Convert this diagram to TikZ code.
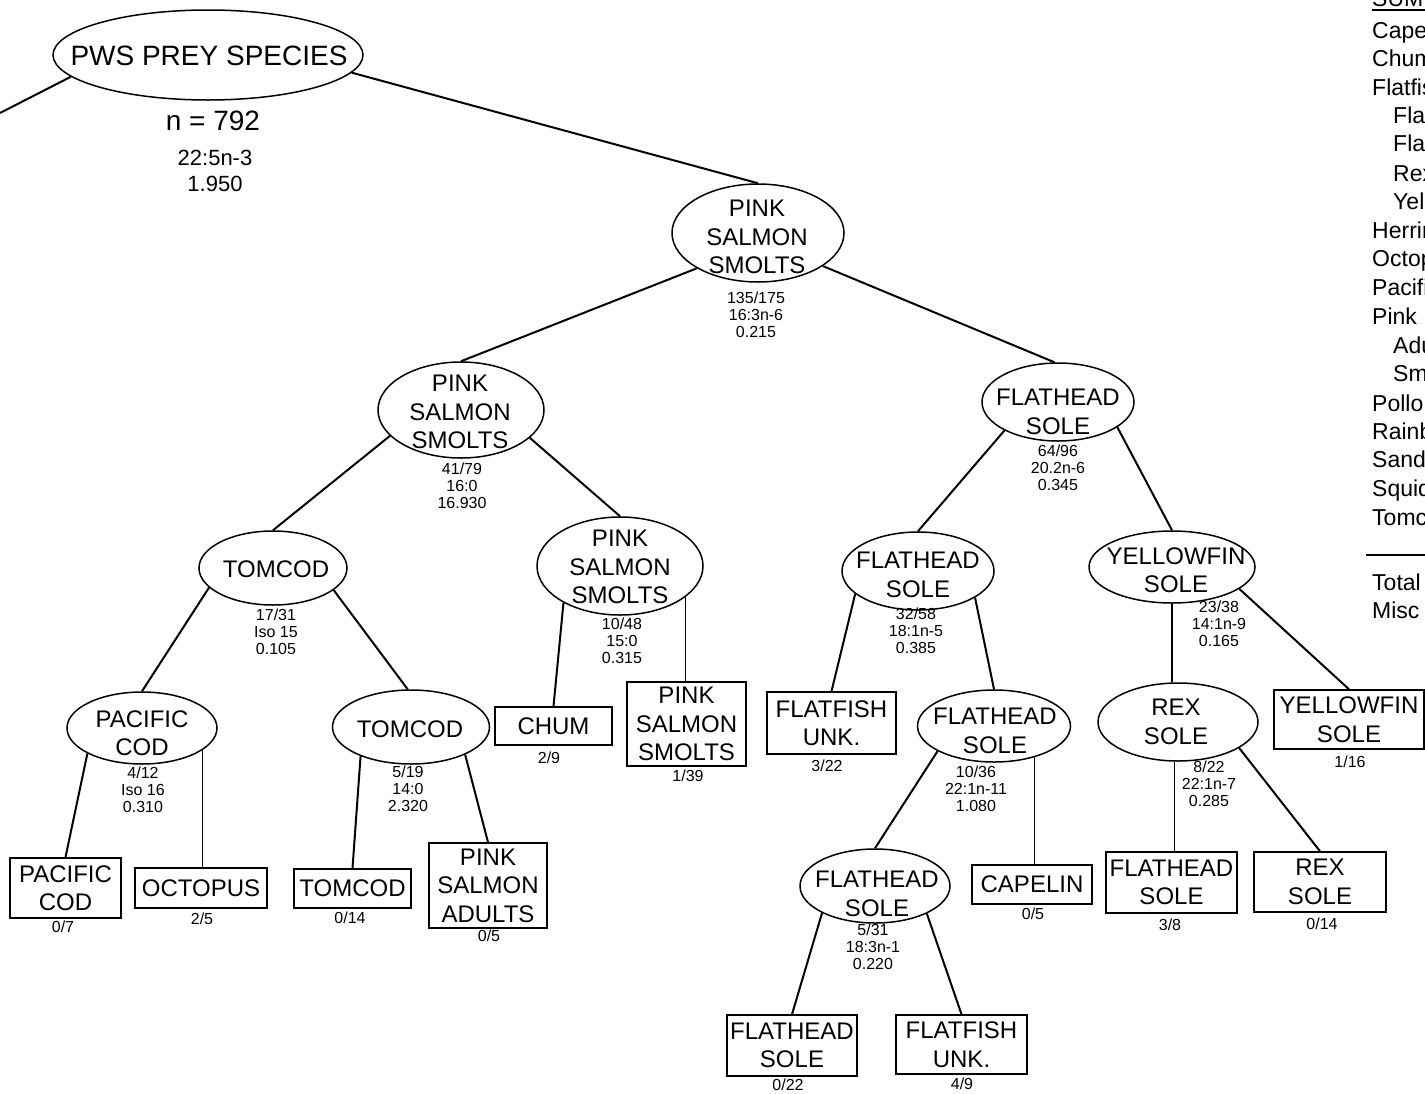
\documentclass[tikz,border=0pt]{standalone}
\usepackage{fontspec}
\setmainfont{Liberation Sans}
\usetikzlibrary{shapes.geometric,calc}
\begin{document}
\begin{tikzpicture}[x=1pt,y=-1pt,
  ell/.style={draw, ellipse, line width=1.5pt, inner sep=0pt},
  etext/.style={align=center, inner sep=0pt, font=\fontsize{24}{28.5}\selectfont},
  leaf/.style={draw, rectangle, line width=1.5pt, inner sep=0pt, align=center, font=\fontsize{24}{28.5}\selectfont},
  stat/.style={align=center, inner sep=0pt, font=\fontsize{16}{17}\selectfont},
  cnt/.style={inner sep=0pt, font=\fontsize{16}{17}\selectfont},
  conn/.style={line width=2pt},
  vconn/.style={line width=1.1pt},
  leg/.style={anchor=base west, inner sep=0pt, font=\fontsize{23}{23}\selectfont},
]
\clip (0,0) rectangle (1425,1093);
\fill[white] (0,0) rectangle (1425,1093);

% ---------- root ----------
\node[ell, minimum width=310pt, minimum height=90pt] (R0) at (208,55) {};
\node[etext, font=\fontsize{28}{30}\selectfont] (R0t) at (209,56) {PWS PREY SPECIES};
\node[inner sep=0pt, font=\fontsize{28}{30}\selectfont] (R0n) at (213,121) {n = 792};
\node[stat, font=\fontsize{22}{26}\selectfont] (R0s) at (215,171) {22:5n-3\\1.950};
\coordinate (eL) at (0,113);

% ---------- internal (ellipse) nodes ----------
\node[ell, minimum width=172pt, minimum height=98pt] (A) at (758,233) {};
\node[etext] (At) at (757,237) {PINK\\SALMON\\SMOLTS};
\node[stat] (As) at (756,315) {135/175\\16:3n-6\\0.215};

\node[ell, minimum width=166pt, minimum height=96pt] (B) at (461,410) {};
\node[etext] (Bt) at (460,412) {PINK\\SALMON\\SMOLTS};
\node[stat] (Bs) at (462,486) {41/79\\16:0\\16.930};

\node[ell, minimum width=152pt, minimum height=78pt] (C) at (1058,402) {};
\node[etext] (Ct) at (1058,412) {FLATHEAD\\SOLE};
\node[stat] (Cs) at (1058,468) {64/96\\20.2n-6\\0.345};

\node[ell, minimum width=148pt, minimum height=74pt] (D) at (273,568) {};
\node[etext] (Dt) at (276,569) {TOMCOD};
\node[stat] (Ds) at (276,632) {17/31\\Iso 15\\0.105};

\node[ell, minimum width=166pt, minimum height=98pt] (E) at (620,566) {};
\node[etext] (Et) at (620,567) {PINK\\SALMON\\SMOLTS};
\node[stat] (Es) at (622,641) {10/48\\15:0\\0.315};

\node[ell, minimum width=152pt, minimum height=78pt] (F) at (918,571) {};
\node[etext] (Ft) at (918,575) {FLATHEAD\\SOLE};
\node[stat] (Fs) at (916,631) {32/58\\18:1n-5\\0.385};

\node[ell, minimum width=166pt, minimum height=72pt] (G) at (1172,567) {};
\node[etext] (Gt) at (1176,570) {YELLOWFIN\\SOLE};
\node[stat] (Gs) at (1219,624) {23/38\\14:1n-9\\0.165};

\node[ell, minimum width=150pt, minimum height=72pt] (H) at (142,728) {};
\node[etext] (Ht) at (142,733) {PACIFIC\\COD};
\node[stat] (Hs) at (143,790) {4/12\\Iso 16\\0.310};

\node[ell, minimum width=157pt, minimum height=74pt] (I) at (411,727) {};
\node[etext] (It) at (410,729) {TOMCOD};
\node[stat] (Is) at (408,789) {5/19\\14:0\\2.320};

\node[ell, minimum width=153pt, minimum height=72pt] (M) at (994,726) {};
\node[etext] (Mt) at (995,731) {FLATHEAD\\SOLE};
\node[stat] (Ms) at (976,789) {10/36\\22:1n-11\\1.080};

\node[ell, minimum width=160pt, minimum height=78pt] (N) at (1178,722) {};
\node[etext] (Nt) at (1176,722) {REX\\SOLE};
\node[stat] (Ns) at (1209,784) {8/22\\22:1n-7\\0.285};

\node[ell, minimum width=150pt, minimum height=74pt] (T) at (875,886) {};
\node[etext] (Tt) at (877,894) {FLATHEAD\\SOLE};
\node[stat] (Ts) at (873,947) {5/31\\18:3n-1\\0.220};

% ---------- leaves (boxes) ----------
\node[leaf, minimum width=117pt, minimum height=38pt] (J) at (553.5,726) {CHUM};
\node[cnt] (Jc) at (549,758) {2/9};
\node[leaf, minimum width=119pt, minimum height=84pt] (K) at (686.5,724) {PINK\\SALMON\\SMOLTS};
\node[cnt] (Kc) at (688,776) {1/39};
\node[leaf, minimum width=129pt, minimum height=62pt] (L) at (831.5,723) {FLATFISH\\UNK.};
\node[cnt] (Lc) at (827,766) {3/22};
\node[leaf, minimum width=150pt, minimum height=59pt] (O) at (1349,719.5) {YELLOWFIN\\SOLE};
\node[cnt] (Oc) at (1350,762) {1/16};
\node[leaf, minimum width=111pt, minimum height=60pt] (P) at (65.5,888) {PACIFIC\\COD};
\node[cnt] (Pc) at (63,927) {0/7};
\node[leaf, minimum width=132pt, minimum height=40pt] (Q) at (201,888) {OCTOPUS};
\node[cnt] (Qc) at (202,919) {2/5};
\node[leaf, minimum width=117pt, minimum height=39pt] (R) at (352.5,888.5) {TOMCOD};
\node[cnt] (Rc) at (350,918) {0/14};
\node[leaf, minimum width=118pt, minimum height=85pt] (S) at (488,885.5) {PINK\\SALMON\\ADULTS};
\node[cnt] (Sc) at (489,936) {0/5};
\node[leaf, minimum width=120pt, minimum height=39pt] (U) at (1032,884.5) {CAPELIN};
\node[cnt] (Uc) at (1033,914) {0/5};
\node[leaf, minimum width=130pt, minimum height=61pt] (V) at (792,1045.5) {FLATHEAD\\SOLE};
\node[cnt] (Vc) at (788,1085) {0/22};
\node[leaf, minimum width=131pt, minimum height=59pt] (W) at (961.5,1044.5) {FLATFISH\\UNK.};
\node[cnt] (Wc) at (962,1084) {4/9};
\node[leaf, minimum width=131pt, minimum height=61pt] (X) at (1171.5,882.5) {FLATHEAD\\SOLE};
\node[cnt] (Xc) at (1170,925) {3/8};
\node[leaf, minimum width=132pt, minimum height=60pt] (Y) at (1320,882) {REX\\SOLE};
\node[cnt] (Yc) at (1322,924) {0/14};

% ---------- connectors ----------
\draw[conn] (R0.189) -- (eL);
\draw[conn] (R0.-7) -- (A.north);
\draw[conn] (A.210) -- (B.north);
\draw[conn] (A.-27) -- (C.95);
\draw[conn] (B.200) -- (D.north);
\draw[conn] (B.-22) -- (E.north);
\draw[conn] (C.208) -- (F.north);
\draw[conn] (C.-23) -- (G.north);
\draw[conn] (D.197) -- (H.north);
\draw[conn] (D.-20) -- (I.95);
\draw[conn] (E.213) -- (J.north);
\draw[vconn] (E.-25) -- (E.-25 |- K.north);
\draw[conn] (F.200) -- (L.north);
\draw[conn] (F.-25) -- (M.north);
\draw[vconn] (G.south) -- (G.south |- N.north);
\draw[conn] (G.-18) -- (O.north);
\draw[conn] (H.205) -- (P.north);
\draw[vconn] (H.-20) -- (H.-20 |- Q.north);
\draw[conn] (I.210) -- (R.north);
\draw[conn] (I.-27) -- (S.north);
\draw[conn] (M.204) -- (T.north);
\draw[vconn] (M.-38) -- (M.-38 |- U.north);
\draw[conn] (T.207) -- (V.north);
\draw[conn] (T.-28) -- (W.north);
\draw[vconn] (N.-95) -- (N.-95 |- X.north);
\draw[conn] (N.-23) -- (Y.north);

% ---------- legend (cut by the right edge, as in the reference) ----------
\node[leg] (lh) at (1372,6) {SUM};
\draw[line width=1.2pt] (1372,10) -- (1425,10);
\node[leg] (l1) at (1372,38) {Cape};
\node[leg] (l2) at (1372,66) {Chum};
\node[leg] (l3) at (1372,95) {Flatfish};
\node[leg] (l4) at (1393,123) {Fla};
\node[leg] (l5) at (1393,151) {Fla};
\node[leg] (l6) at (1393,181) {Rex};
\node[leg] (l7) at (1393,209) {Yel};
\node[leg] (l8) at (1372,238) {Herrin};
\node[leg] (l9) at (1372,266) {Octop};
\node[leg] (l10) at (1372,295) {Pacifi};
\node[leg] (l11) at (1372,324) {Pink};
\node[leg] (l12) at (1393,353) {Adu};
\node[leg] (l13) at (1393,381) {Sm};
\node[leg] (l14) at (1372,411) {Pollo};
\node[leg] (l15) at (1372,439) {Rainb};
\node[leg] (l16) at (1372,467) {Sand};
\node[leg] (l17) at (1372,496) {Squid};
\node[leg] (l18) at (1372,525) {Tomc};
\draw[line width=1.2pt] (1366,555) -- (1425,555);
\node[leg] (l19) at (1372,590) {Total};
\node[leg] (l20) at (1372,618) {Misc};
\end{tikzpicture}
\end{document}
